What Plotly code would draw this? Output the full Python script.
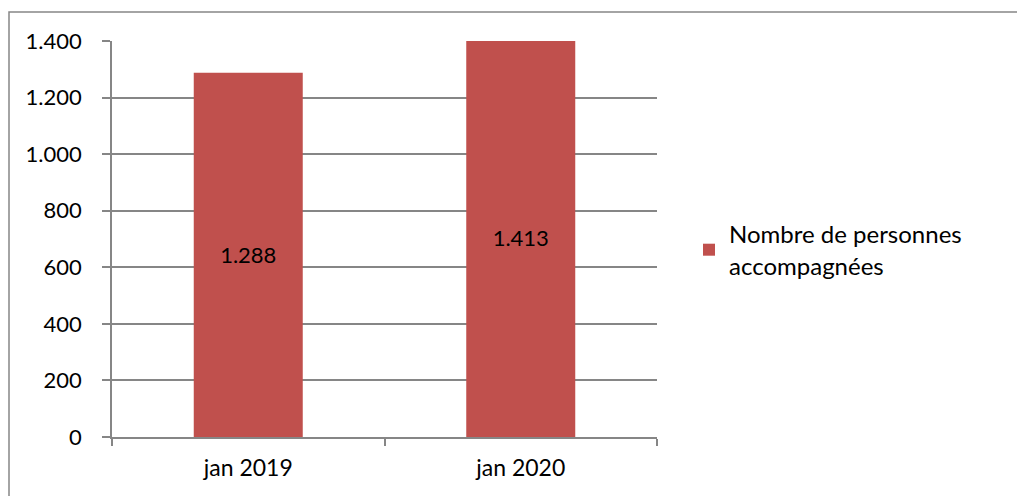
import plotly.graph_objects as go

# Données
categories = ["jan 2019", "jan 2020"]
personnes = [1288, 1413]
serie_nom = "Nombre de personnes<br>accompagnées"
y_ticks = [0, 200, 400, 600, 800, 1000, 1200, 1400]

BAR = "#C0504D"
GRID = "#868686"
FONT = "Lato, Calibri, Carlito, sans-serif"

W, H = 1017, 496
L, R, T, B = 112, 360, 41, 59
pw, ph = W - L - R, H - T - B


def px_x(p):
    return (p - L) / pw


def px_y(p):
    return (H - B - p) / ph


fig = go.Figure()
fig.add_trace(go.Bar(
    x=categories,
    y=personnes,
    name=serie_nom,
    marker=dict(color=BAR, line=dict(width=0)),
    width=0.4,
    texttemplate="%{y:,d}",
    textposition="inside",
    insidetextanchor="middle",
    textangle=0,
    textfont=dict(color="black", size=22, family=FONT),
))

fig.update_layout(
    width=W, height=H,
    margin=dict(l=L, r=R, t=T, b=B, pad=0),
    paper_bgcolor="white",
    plot_bgcolor="white",
    separators=",.",
    font=dict(family=FONT, size=22, color="black"),
    showlegend=True,
    legend=dict(
        x=px_x(689), y=px_y(250), xanchor="left", yanchor="middle",
        font=dict(size=24, family=FONT, color="black"),
        bgcolor="rgba(0,0,0,0)",
        itemwidth=30,
    ),
    xaxis=dict(
        type="category",
        showgrid=False,
        showline=True, linecolor=GRID, linewidth=1.5,
        ticks="outside", tickson="boundaries", ticklen=7,
        tickcolor=GRID, tickwidth=1.5,
        ticklabelstandoff=10,
        tickfont=dict(size=23, family=FONT),
        range=[-0.5, 1.5],
    ),
    yaxis=dict(
        range=[0, 1400],
        tickvals=y_ticks,
        tickformat=",d",
        showgrid=True, gridcolor=GRID, gridwidth=1.5,
        showline=True, linecolor=GRID, linewidth=1.5,
        ticks="outside", ticklen=8, tickcolor=GRID, tickwidth=1.5,
        ticklabelstandoff=16,
        zeroline=False,
        tickfont=dict(size=22, family=FONT),
    ),
    shapes=[dict(
        type="rect", xref="paper", yref="paper",
        x0=px_x(9), x1=px_x(1030), y0=px_y(12), y1=px_y(520),
        line=dict(color=GRID, width=1.5), fillcolor="rgba(0,0,0,0)",
        layer="below",
    )],
)

fig.write_html("out.html")
